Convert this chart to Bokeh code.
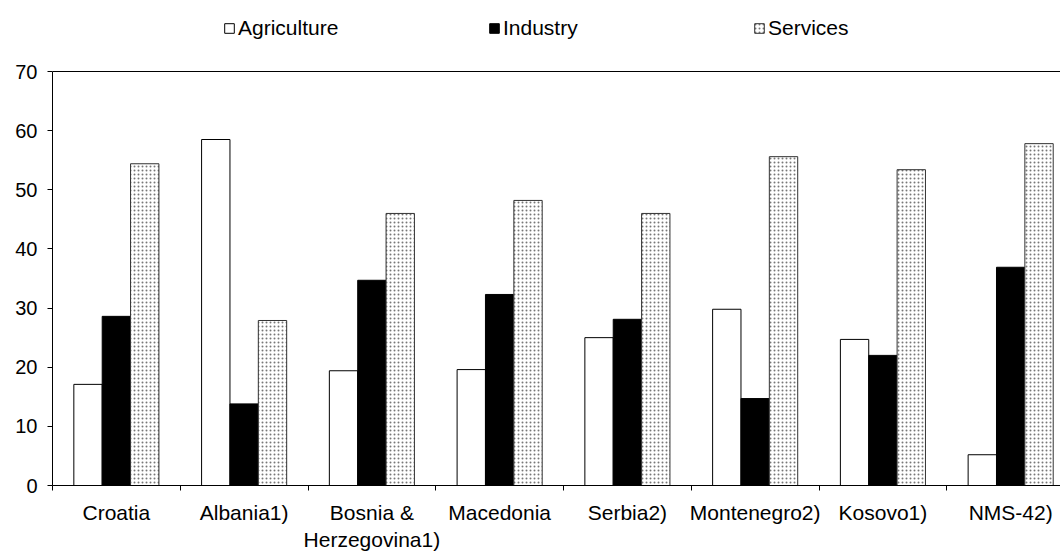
from bokeh.plotting import figure
from bokeh.models import (Range1d, FixedTicker, Span, Legend, LegendItem,
                          ColumnDataSource)
from bokeh.embed import file_html
from bokeh.resources import INLINE
import numpy as np

countries = ["Croatia", "Albania1)", "Bosnia &\nHerzegovina1)", "Macedonia",
             "Serbia2)", "Montenegro2)", "Kosovo1)", "NMS-42)"]
agriculture = [17.1, 58.5, 19.4, 19.6, 25.0, 29.8, 24.7, 5.2]
industry = [28.6, 13.8, 34.7, 32.3, 28.1, 14.7, 22.0, 36.9]
services = [54.4, 27.9, 46.0, 48.2, 46.0, 55.6, 53.4, 57.8]
y_ticks = [0, 10, 20, 30, 40, 50, 60, 70]
series_names = ["Agriculture", "Industry", "Services"]

FONT = "Liberation Sans"
n = len(countries)
centers = np.arange(n) + 0.5
bw = 0.222

W, H = 1060, 554
TOP, BOTTOM, LEFT = 8, 69, 52
frame_h = H - TOP - BOTTOM
y_max = y_ticks[-1]
y_end = y_max * frame_h / 414.0   # 0..70 spans 414 px; room above for legend

src = ColumnDataSource(dict(
    xa=centers - bw, xi=centers, xs=centers + bw,
    agri=agriculture, ind=industry, serv=services))

p = figure(width=W, height=H, output_backend="svg", toolbar_location=None,
           x_range=Range1d(0, 7.89), y_range=Range1d(0, y_end),
           min_border_left=LEFT, min_border_right=0, min_border_top=TOP,
           min_border_bottom=BOTTOM)
p.outline_line_color = None
p.background_fill_color = "white"
p.border_fill_color = "white"
p.xgrid.visible = False
p.ygrid.visible = False

ra = p.vbar(x="xa", top="agri", width=bw, source=src, fill_color="white",
            line_color="black", line_width=1)
ri = p.vbar(x="xi", top="ind", width=bw, source=src, fill_color="black",
            line_color="black", line_width=1)
rs = p.vbar(x="xs", top="serv", width=bw, source=src, fill_color="white",
            line_color="#333333", line_width=1, hatch_pattern="dot",
            hatch_color="#777777", hatch_scale=4, hatch_weight=1)

# top border line of the plot area at 70
p.add_layout(Span(location=y_max, dimension="width", line_color="black",
                  line_width=1))

# y axis
ya = p.yaxis[0]
ya.ticker = FixedTicker(ticks=y_ticks)
ya.bounds = (0, y_max)
ya.minor_tick_line_color = None
ya.major_tick_in = 0
ya.major_tick_out = 5
ya.major_label_standoff = 10
ya.major_label_text_font = FONT
ya.major_label_text_font_size = "20px"
ya.major_label_text_color = "black"
ya.axis_line_color = "black"

# x axis: labels at centres, ticks at category boundaries
xa = p.xaxis[0]
xa.ticker = FixedTicker(ticks=list(centers), minor_ticks=list(range(n + 1)))
xa.major_label_overrides = {float(c): lab for c, lab in zip(centers, countries)}
xa.major_tick_line_color = None
xa.major_tick_in = 0
xa.major_tick_out = 0
xa.minor_tick_in = 0
xa.minor_tick_out = 5
xa.minor_tick_line_color = "black"
xa.major_label_standoff = 10
xa.major_label_text_font = FONT
xa.major_label_text_font_size = "21px"
xa.major_label_text_color = "black"
xa.axis_line_color = "black"

legend = Legend(items=[LegendItem(label=series_names[0], renderers=[ra]),
                       LegendItem(label=series_names[1], renderers=[ri]),
                       LegendItem(label=series_names[2], renderers=[rs])],
                orientation="horizontal", location=(171, frame_h - 31.5),
                glyph_width=12, glyph_height=12, label_standoff=3,
                label_width=250, label_height=20, spacing=0, padding=0, margin=0,
                border_line_color=None, background_fill_alpha=0,
                label_text_font=FONT, label_text_font_size="21px",
                label_text_color="black")
p.add_layout(legend, "center")

open("out.html", "w").write(file_html(p, INLINE))
